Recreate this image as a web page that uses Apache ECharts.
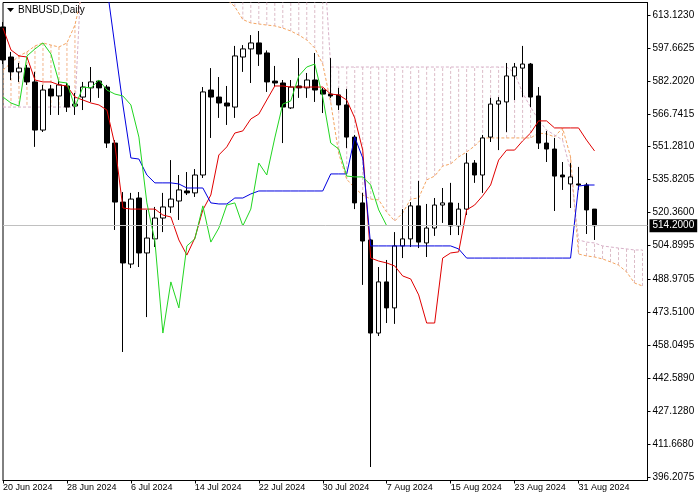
<!DOCTYPE html>
<html><head><meta charset="utf-8">
<script src="https://cdn.jsdelivr.net/npm/echarts@6/dist/echarts.min.js"></script>
<style>html,body{margin:0;padding:0;background:#fff}#c{width:700px;height:500px}</style>
</head><body><div id="c"></div>
<script>
// ---------- data ----------
const symbolName = 'BNBUSD,Daily';
const dateIndex = [0, 8, 16, 24, 32, 40, 48, 56, 64, 72];
const dateLabels = ['20 Jun 2024','28 Jun 2024','6 Jul 2024','14 Jul 2024','22 Jul 2024','30 Jul 2024','7 Aug 2024','15 Aug 2024','23 Aug 2024','31 Aug 2024'];
const priceTicks = ['613.1230','597.6625','582.2020','566.7415','551.2810','535.8205','520.3600','504.8995','488.9705','473.5100','458.0495','442.5890','427.1280','411.6680','396.2075'];

const opens = [607.5,593.4,586.4,588.2,581.7,559.1,578.4,575.1,579.8,570.4,
574.6,578.9,582.1,579.3,553.0,525.3,496.2,527.2,501.4,508.0,
517.8,523.0,525.8,530.5,529.6,538.0,577.9,574.6,571.8,569.9,
593.4,597.2,600.0,595.3,582.1,581.2,569.5,579.8,578.9,582.6,
577.9,576.0,575.6,570.9,555.8,524.9,507.5,463.8,487.8,475.6,
504.7,508.0,523.5,506.1,513.1,523.9,524.9,514.1,522.0,543.6,
538.0,555.8,571.3,572.3,584.5,588.2,590.1,575.1,553.0,550.2,
538.0,533.8,533.8,533.3,522.0];
const closes = [592.0,586.4,588.2,581.7,559.1,577.9,575.1,580.3,569.9,571.3,
579.3,581.7,578.9,553.0,525.3,496.7,526.7,501.4,508.4,517.8,
523.0,526.7,531.0,529.6,538.0,577.0,574.6,571.8,570.4,593.9,
597.2,600.0,594.8,581.7,581.2,569.9,579.3,578.9,582.6,577.9,
576.0,575.1,570.9,555.8,524.9,507.0,463.8,487.8,475.6,504.7,
508.0,523.5,506.5,513.1,523.9,524.9,514.1,522.0,543.6,538.0,
555.4,571.3,572.8,584.5,588.7,590.1,574.6,553.0,550.2,537.5,
537.1,537.1,533.3,521.6,514.2];
const lows = [590.1,582.6,581.7,580.3,551.2,558.2,566.2,566.2,567.6,566.2,
568.5,572.3,574.2,550.7,512.2,454.9,494.3,494.8,471.3,504.2,
511.2,520.2,516.9,528.6,527.7,536.6,555.4,564.8,561.5,564.8,
586.4,581.2,589.2,577.0,579.3,553.0,569.0,574.2,574.2,572.3,
567.1,574.2,568.5,550.7,522.0,486.4,400.9,462.4,468.5,468.1,
499.0,504.2,503.7,499.5,509.4,515.5,509.8,509.8,519.2,534.3,
529.6,553.5,549.7,558.2,573.2,574.6,569.9,550.2,544.1,521.1,
531.0,522.5,531.0,510.3,507.5];
const highs = [609.8,595.8,590.6,589.7,586.4,580.3,580.3,582.6,581.2,576.5,
581.7,588.7,582.6,580.3,554.4,530.0,529.6,530.0,521.6,523.0,
529.6,545.0,538.0,539.4,540.8,579.3,588.2,584.0,579.8,598.6,
599.0,603.7,605.6,596.5,589.2,582.6,582.6,592.9,585.9,595.3,
578.9,592.9,578.9,578.4,556.8,529.6,508.0,494.8,498.1,511.2,
522.0,525.3,535.2,524.4,527.2,531.9,534.3,524.9,548.3,545.0,
556.8,574.2,574.6,590.6,590.6,598.6,590.6,579.3,558.7,555.4,
544.1,543.6,541.8,534.3,522.0];

const tenkan = [607.0,596.7,593.9,593.4,582.6,581.7,581.7,580.3,579.8,574.6,
573.2,571.8,570.9,568.5,552.1,522.5,522.0,522.0,522.0,522.0,
519.2,518.3,507.5,500.4,508.4,521.6,528.6,547.4,551.2,557.7,
558.7,564.3,566.6,573.2,579.8,579.8,579.3,579.3,579.3,579.3,
579.3,576.0,575.6,573.2,564.8,549.7,499.0,497.6,496.7,495.3,
490.6,489.2,481.7,468.5,468.5,499.0,501.4,501.9,521.6,523.9,
528.2,533.3,545.0,549.7,549.7,554.0,557.7,563.4,563.4,560.1,
560.1,560.1,560.1,554.4,549.3];
const kijun = [null,null,null,null,null,null,null,null,null,null,
null,null,653.0,626.3,598.6,570.9,546.0,545.5,538.0,534.3,
534.3,534.3,533.8,531.9,531.9,531.9,524.9,524.4,524.4,527.2,
527.2,529.1,530.5,530.5,530.5,530.5,530.5,530.5,530.5,530.5,
530.5,538.5,538.5,538.5,555.8,546.0,504.7,504.7,504.7,504.7,
504.7,504.7,504.7,504.7,504.7,504.7,504.7,503.3,499.0,499.0,
499.0,499.0,499.0,499.0,499.0,499.0,499.0,499.0,499.0,499.0,
499.0,499.0,532.8,533.3,533.3];
const chikou = [574.6,571.8,570.4,593.9,597.2,600.0,594.8,581.7,581.2,569.9,
579.3,578.9,582.6,577.9,576.0,575.1,570.9,555.8,524.9,507.0,
463.8,487.8,475.6,504.7,508.0,523.5,506.5,513.1,523.9,524.9,
514.1,522.0,543.6,538.0,555.4,571.3,572.8,584.5,588.7,590.1,
574.6,553.0,550.2,537.5,537.1,537.1,533.3,521.6,514.2];
const spanA = [587.3,590.6,593.9,595.8,598.6,600.0,599.0,598.1,600.0,608.4,
625,632,638,642,646,650,652,655,657,655,
652,648,645,640,636,632,628,624,620.5,617,
611,609.4,608.9,608.4,608,607,605.6,603.7,601.4,597.6,
590,572,548,536,531.9,528.6,526.7,526.3,520.6,516.4,
520.2,526.7,527.2,535.7,537.5,542.2,543.2,546.5,548.8,551.6,
555.4,555.4,555.4,555.4,555.4,555.4,555.4,557.7,557.3,555.9,
560.1,546.5,500.9,500.0,499.5,498.6,497.2,495.7,492.5,487.3,
485.9];
const spanB = [569.9,569.9,569.9,569.9,569.9,569.9,569.9,569.9,569.9,569.9,
648,648,648,648,648,648,648,648,648,648,
648,648,648,648,648,648,648,648,648,648,
648,648,648,648,648,648,648,648,648,648,
648,588.7,588.7,588.7,588.7,588.7,588.7,588.7,588.7,588.7,
588.7,588.7,588.7,588.7,588.7,588.7,588.7,588.7,588.7,588.7,
588.7,588.7,588.7,588.7,585.9,576.5,569.9,563.8,559.1,556.8,
554.4,540.3,507.5,506.5,506.1,504.7,504.2,503.7,503.3,502.8,
502.8];

// ---------- chart ----------
const FONT = '"Liberation Sans", Arial, sans-serif';
const lastPrice = closes[closes.length - 1];
const tickVals = priceTicks.map(Number);
const pxPerPrice = 462 / (tickVals[0] - tickVals[tickVals.length - 1]);
const yMax = tickVals[0] + 12.5 / pxPerPrice;
const yMin = tickVals[tickVals.length - 1] - 3.5 / pxPerPrice;
const xy = arr => arr.map((v, i) => [i, v]);

const chart = echarts.init(document.getElementById('c'), null, {renderer: 'canvas', width: 700, height: 500});
chart.setOption({
  animation: false,
  backgroundColor: '#ffffff',
  textStyle: {fontFamily: FONT},
  grid: {left: 2.5, top: 2.5, right: 52.5, bottom: 19.5, show: true, borderColor: '#000', borderWidth: 1, backgroundColor: '#fff'},
  graphic: [
    {type: 'polygon', left: 7, top: 8, shape: {points: [[0, 0], [7, 0], [3.5, 4]]}, style: {fill: '#000'}, z: 100},
    {type: 'text', left: 18, top: 5, style: {text: symbolName, font: '10px ' + FONT, fill: '#000'}, z: 100}
  ],
  xAxis: {
    type: 'value', min: 0, max: 80.625, interval: 8,
    splitLine: {show: false},
    axisLine: {show: true, onZero: false, lineStyle: {color: '#000', width: 1}},
    axisTick: {show: true, length: 3, lineStyle: {color: '#000'}, customValues: dateIndex},
    axisLabel: {
      customValues: dateIndex, align: 'left', margin: 3, fontSize: 9, color: '#000', fontFamily: FONT,
      formatter: v => { const k = dateIndex.indexOf(Math.round(v)); return k >= 0 ? dateLabels[k] : ''; }
    }
  },
  yAxis: {
    type: 'value', position: 'right', min: yMin, max: yMax, scale: true,
    splitLine: {show: false},
    axisLine: {show: true, onZero: false, lineStyle: {color: '#000', width: 1}},
    axisTick: {show: true, length: 3, lineStyle: {color: '#000'}, customValues: tickVals},
    axisLabel: {customValues: tickVals, margin: 5, fontSize: 10, color: '#000', fontFamily: FONT, formatter: v => v.toFixed(4)}
  },
  series: [
    {
      type: 'custom', name: 'cloud', z: 1, clip: true, silent: true,
      data: spanA.map((a, i) => [i, a, spanB[i]]),
      encode: {x: 0, y: [1, 2]},
      renderItem: (params, api) => {
        const i = api.value(0), a = api.value(1), b = api.value(2);
        const p1 = api.coord([i, a]), p2 = api.coord([i, b]);
        return {type: 'line', shape: {x1: p1[0], y1: p1[1], x2: p2[0], y2: p2[1]},
          style: {stroke: a >= b ? '#f2b48a' : '#dcbcc8', lineWidth: 1, lineDash: [3, 2]}};
      }
    },
    {type: 'line', name: 'Senkou A', z: 2, data: xy(spanA), symbol: 'none', silent: true,
      lineStyle: {color: '#f4a460', width: 1, type: [3, 2]}},
    {type: 'line', name: 'Senkou B', z: 2, data: xy(spanB), symbol: 'none', silent: true,
      lineStyle: {color: '#d8b0c8', width: 1, type: [3, 2]}},
    {type: 'line', name: 'price', z: 2, data: [], clip: false, silent: true,
      markLine: {
        silent: true, symbol: ['none', 'none'], animation: false,
        lineStyle: {color: '#c0c0c0', type: 'solid', width: 1},
        label: {show: true, position: 'end', distance: 2, formatter: lastPrice.toFixed(4),
          backgroundColor: '#000', color: '#fff', fontSize: 10, fontFamily: FONT, padding: [2, 3, 1, 3]},
        data: [{yAxis: lastPrice}]
      }},
    {
      type: 'candlestick', name: symbolName, z: 3, barWidth: 5,
      data: opens.map((o, i) => [i, o, closes[i], lows[i], highs[i]]),
      encode: {x: 0, y: [1, 2, 3, 4]},
      itemStyle: {color: '#ffffff', color0: '#000000', borderColor: '#000000', borderColor0: '#000000', borderWidth: 1}
    },
    {type: 'line', name: 'Tenkan-sen', z: 4, data: xy(tenkan), symbol: 'none', silent: true,
      lineStyle: {color: '#e00000', width: 1}},
    {type: 'line', name: 'Kijun-sen', z: 4, data: xy(kijun), symbol: 'none', silent: true, connectNulls: false,
      lineStyle: {color: '#0000e0', width: 1}},
    {type: 'line', name: 'Chikou Span', z: 4, data: xy(chikou), symbol: 'none', silent: true,
      lineStyle: {color: '#22d622', width: 1}}
  ]
});
</script>
</body></html>
